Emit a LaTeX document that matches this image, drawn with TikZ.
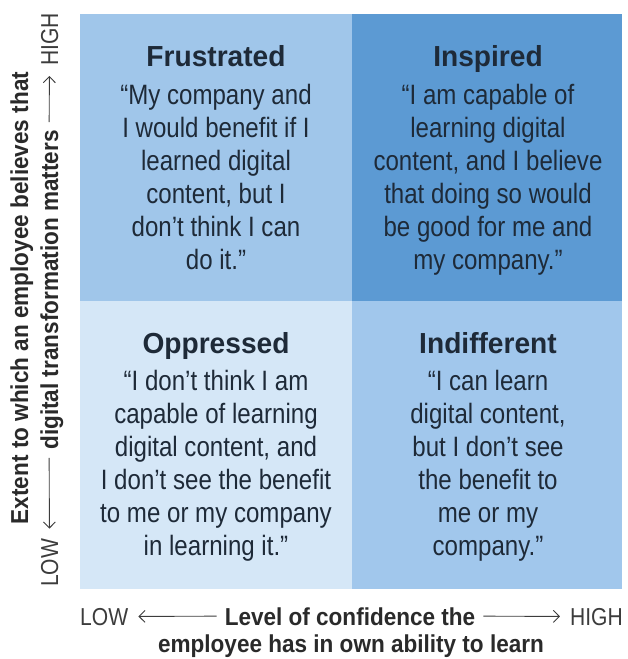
\documentclass[tikz,border=0pt]{standalone}
\usepackage{fontspec}
\setmainfont[FakeStretch=0.86]{Liberation Sans}
\newfontfamily\headfont[FakeStretch=0.97]{Liberation Sans}
\newfontfamily\axisbold[FakeStretch=0.92]{Liberation Sans}
\usetikzlibrary{arrows.meta}

\definecolor{lowlow}{HTML}{D5E7F7}
\definecolor{lowhigh}{HTML}{A0C6EA}
\definecolor{highlow}{HTML}{A1C7EC}
\definecolor{highhigh}{HTML}{5C9AD3}
\definecolor{quadtext}{HTML}{1E2A38}
\definecolor{axistext}{HTML}{3C3C3C}
\definecolor{axisdark}{HTML}{2A2A2A}

\tikzstyle{quadtitle} = [font=\headfont\bfseries\fontsize{29}{33}\selectfont, text=quadtext, anchor=base, inner sep=0pt]
\tikzstyle{quotetext} = [font=\fontsize{28}{33}\selectfont, text=quadtext, align=center, anchor=north, inner sep=0pt]
\tikzstyle{axislabel} = [font=\fontsize{24.5}{27}\selectfont, text=axistext, inner sep=0pt, text depth=0pt]
\tikzstyle{axisname} = [font=\axisbold\bfseries\fontsize{24.5}{27}\selectfont, text=axisdark, inner sep=0pt]
\tikzstyle{axisarrow} = [line width=0.9pt, draw=axistext, -{Straight Barb[length=6pt,width=12pt]}, shorten >=10pt, shorten <=8pt]

\begin{document}
\begin{tikzpicture}[x=1pt, y=-1pt]
        \useasboundingbox (0,0) rectangle (628,659);

        % Quadrants
        \fill[lowhigh] (80,14) rectangle (352,301);
        \fill[highhigh] (352,14) rectangle (622,301);
        \fill[lowlow] (80,301) rectangle (352,589);
        \fill[highlow] (352,301) rectangle (622,589);

        % Titles
        \node[quadtitle] (frustrated) at (216,66) {Frustrated};
        \node[quadtitle] (inspired) at (488,66) {Inspired};
        \node[quadtitle] (oppressed) at (216,353) {Oppressed};
        \node[quadtitle] (indifferent) at (488,353) {Indifferent};

        % Quotes
        \node[quotetext] (frustratedq) at (216,84) {“My company and\\I would benefit if I\\learned digital\\content, but I\\don’t think I can\\do it.”};
        \node[quotetext] (inspiredq) at (488,84) {“I am capable of\\learning digital\\content, and I believe\\that doing so would\\be good for me and\\my company.”};
        \node[quotetext] (oppressedq) at (216,370) {“I don’t think I am\\capable of learning\\digital content, and\\I don’t see the benefit\\to me or my company\\in learning it.”};
        \node[quotetext] (indifferentq) at (488,370) {“I can learn\\digital content,\\but I don’t see\\the benefit to\\me or my\\company.”};

        % Axis - confidence
        \node[axislabel, anchor=base west] (xlow) at (80,625) {LOW};
        \node[axislabel, anchor=base east] (xhigh) at (623,625) {HIGH};
        \node[axisname, text depth=0pt, anchor=base] (xname) at (350,625) {Level of confidence the};
        \node[axisname, anchor=base] (xname2) at (351,652) {employee has in own ability to learn};
        \draw[axisarrow] (xname.west) -- (xlow.east);
        \draw[axisarrow] (xname.east) -- (xhigh.west);

        % Axis - belief
        \node[axisname, rotate=90, anchor=base] (yname) at (28,298) {Extent to which an employee believes that};
        \node[axislabel, rotate=90, anchor=base west] (ylow) at (58,587) {LOW};
        \node[axislabel, rotate=90, anchor=base east] (yhigh) at (58,13) {HIGH};
        \node[axisname, text depth=0pt, rotate=90, anchor=base] (yname2) at (58,290) {digital transformation matters};
        \draw[axisarrow] (yname2.west) -- (ylow.east);
        \draw[axisarrow] (yname2.east) -- (yhigh.west);
\end{tikzpicture}
\end{document}
